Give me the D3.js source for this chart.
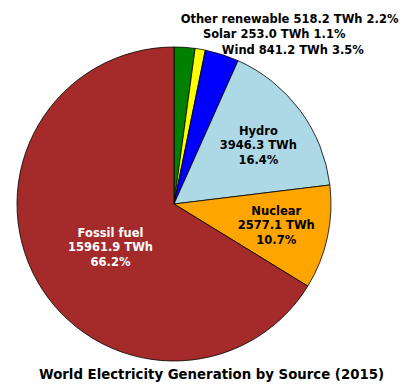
<!DOCTYPE html>
<html><head><meta charset="utf-8">
<script src="https://cdn.jsdelivr.net/npm/d3@7"></script>
<style>body{margin:0;background:#fff}svg{display:block}</style>
</head><body>
<svg id="c" width="405" height="390"></svg>
<script>
const sources = ["Other renewable","Solar","Wind","Hydro","Nuclear","Fossil fuel"];
const twh = [518.2, 253.0, 841.2, 3946.3, 2577.1, 15961.9];
const pct = ["2.2%","1.1%","3.5%","16.4%","10.7%","66.2%"];
const colors = ["#008000","#ffff00","#0000ff","#add8e6","#ffa500","#a52a2a"];
const title = "World Electricity Generation by Source (2015)";

const svg = d3.select("#c");
const cx = 174, cy = 204, r = 157;
const font = "'DejaVu Sans', sans-serif";

const pie = d3.pie().sort(null).value(d => d.v);
const data = sources.map((s,i)=>({s, v:twh[i], p:pct[i], c:colors[i]}));
const arcs = pie(data);
const arc = d3.arc().innerRadius(0).outerRadius(r);

const g = svg.append("g").attr("transform",`translate(${cx},${cy})`);
g.selectAll("path").data(arcs).join("path")
  .attr("d", arc).attr("fill", d=>d.data.c)
  .attr("stroke","#000").attr("stroke-width",0.8).attr("stroke-linejoin","round");

const inside = {"Hydro":{k:0.66,fill:"#000",dx:1,dy:3}, "Nuclear":{k:0.66,fill:"#000",dx:1,dy:-1}, "Fossil fuel":{k:0.5,fill:"#fff",dx:5,dy:5}};
const outside = {"Other renewable":{dx:-5,dy:-13}, "Solar":{dx:0,dy:0}, "Wind":{dx:-5,dy:10}};

arcs.forEach(a=>{
  const mid = (a.startAngle+a.endAngle)/2;
  const name = a.data.s;
  if (inside[name]) {
    const o = inside[name];
    const x = Math.sin(mid)*r*o.k + (o.dx||0), y = -Math.cos(mid)*r*o.k + (o.dy||0);
    const t = g.append("text").attr("x",x).attr("y",y).attr("text-anchor","middle")
      .attr("font-family",font).attr("font-size",11.5).attr("font-weight","bold").attr("fill",o.fill);
    const lines=[name, d3.format(".1f")(a.data.v)+" TWh", a.data.p];
    lines.forEach((l,i)=>t.append("tspan").attr("x",x).attr("y",y+(i-1)*14.5).attr("dy","0.35em").text(l));
  } else {
    const o = outside[name];
    const x = Math.sin(mid)*r*1.1 + o.dx, y = -Math.cos(mid)*r*1.1 + o.dy;
    g.append("text").attr("x",x).attr("y",y).attr("dy","0.35em").attr("text-anchor","start")
      .attr("font-family",font).attr("font-size",11.5).attr("font-weight","bold").attr("fill","#000")
      .text(`${name} ${d3.format(".1f")(a.data.v)} TWh ${a.data.p}`);
  }
});

svg.append("text").attr("x",211.5).attr("y",374).attr("dy","0.35em").attr("text-anchor","middle")
  .attr("font-family",font).attr("font-size",13.3).attr("font-weight","bold").attr("fill","#000")
  .text(title);
</script>
</body></html>
